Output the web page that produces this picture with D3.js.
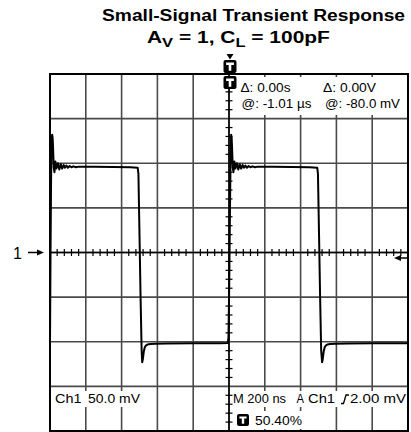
<!DOCTYPE html>
<html>
<head>
<meta charset="utf-8">
<script src="https://cdn.jsdelivr.net/npm/d3@7"></script>
<style>
  html, body { margin: 0; padding: 0; background: #fff; }
  svg { display: block; font-family: "Liberation Sans", Arial, Helvetica, sans-serif; }
</style>
</head>
<body>
<svg id="chart" width="411" height="432"></svg>
<script>
// Scope capture: time in ns from the left graticule edge, voltage in mV (50 mV/div, 200 ns/div)
const timeTicks = [0, 200, 400, 600, 800, 1000, 1200, 1400, 1600, 1800, 2000];
const voltTicks = [-200, -150, -100, -50, 0, 50, 100, 150, 200];

const traceTime = [
  0, 3, 6, 9, 12, 15, 18, 21, 25, 30, 36, 44, 52, 60, 68, 76, 84, 92, 100, 110, 120, 132, 145, 160, 180,
  250, 350, 450, 490, 494, 500, 506, 512, 515, 519, 524, 530, 537, 546, 560, 590, 650, 800, 950, 993,
  997, 1001, 1005, 1009, 1012, 1015, 1018, 1021, 1025, 1030, 1036, 1044, 1052, 1060, 1068, 1076, 1084,
  1092, 1100, 1110, 1120, 1132, 1145, 1160, 1180, 1250, 1350, 1450, 1493, 1497, 1503, 1509, 1515, 1520,
  1524, 1529, 1535, 1542, 1551, 1565, 1595, 1660, 1800, 2000
];
const traceMv = [
  -102, 0, 80, 125, 132, 128, 112, 95, 90, 102, 94, 100, 93, 99, 94, 98, 95, 97.5, 95, 97, 95.5, 96.5, 95.5, 96.2, 96,
  96, 95.8, 95.4, 95, 88, 20, -50, -110, -123, -119, -111, -106, -104, -103, -102.5, -102.2, -102, -101.8, -101.6, -101.5,
  -95, -40, 40, 110, 132, 128, 112, 95, 90, 102, 94, 100, 93, 99, 94, 98, 95,
  97.5, 95, 97, 95.5, 96.5, 95.5, 96.2, 96, 96, 95.8, 95.4, 95, 88, 20, -50, -110, -123,
  -119, -111, -106, -104, -103, -102.5, -102.2, -102, -101.8, -101.6
];

const svg = d3.select("#chart");
const plotL = 50, plotR = 408, plotT = 74, plotB = 431;

const x = d3.scaleLinear().domain([0, 2000]).range([plotL, plotR]);
const y = d3.scaleLinear().domain([-200, 200]).range([plotB, plotT]);

// Title, set in a wide bold face
svg.append("text")
  .attr("x", 102).attr("y", 21)
  .attr("font-size", 16).attr("font-weight", "bold")
  .attr("textLength", 303).attr("lengthAdjust", "spacingAndGlyphs")
  .text("Small-Signal Transient Response");

const sub = svg.append("g");
const t2 = sub.append("text")
  .attr("x", 0).attr("y", 0)
  .attr("font-size", 16.5).attr("font-weight", "bold");
t2.append("tspan").text("A");
t2.append("tspan").attr("font-size", 13).attr("dy", 4).text("V");
t2.append("tspan").attr("dy", -4).text(" = 1, C");
t2.append("tspan").attr("font-size", 13).attr("dy", 4).text("L");
t2.append("tspan").attr("dy", -4).text(" = 100pF");
const w2 = t2.node().getComputedTextLength();
sub.attr("transform", `translate(147,43) scale(${183 / w2},1)`);

// Graticule
const grid = svg.append("g");
grid.selectAll("line.v").data(timeTicks.slice(1, -1)).join("line")
  .attr("x1", d => x(d)).attr("x2", d => x(d))
  .attr("y1", plotT).attr("y2", plotB)
  .attr("stroke", "#4a4a4a").attr("stroke-width", 1.6);
grid.selectAll("line.h").data(voltTicks.slice(1, -1)).join("line")
  .attr("y1", d => y(d)).attr("y2", d => y(d))
  .attr("x1", plotL).attr("x2", plotR)
  .attr("stroke", "#4a4a4a").attr("stroke-width", 1.6);

// Readout backgrounds
const bg = svg.append("g").attr("fill", "#fff");
bg.append("rect").attr("x", 237).attr("y", 77).attr("width", 169).attr("height", 38);
bg.append("rect").attr("x", 53).attr("y", 391).attr("width", 89).attr("height", 16);
bg.append("rect").attr("x", 232).attr("y", 391).attr("width", 175).attr("height", 16);
bg.append("rect").attr("x", 236).attr("y", 411).attr("width", 68).attr("height", 18);

// Centre cross with minor divisions
const cx = x(1000), cy = y(0);
svg.append("line").attr("x1", cx).attr("x2", cx).attr("y1", plotT).attr("y2", plotB)
  .attr("stroke", "#000").attr("stroke-width", 1.5);
svg.append("line").attr("x1", plotL).attr("x2", plotR).attr("y1", cy).attr("y2", cy)
  .attr("stroke", "#000").attr("stroke-width", 1.5);

const minorT = d3.range(0, 2001, 40).filter(d => d % 200 !== 0);
const minorV = d3.range(-200, 201, 10).filter(d => d % 50 !== 0);
svg.append("g").selectAll("line").data(minorT).join("line")
  .attr("x1", d => x(d)).attr("x2", d => x(d))
  .attr("y1", cy - 3.5).attr("y2", cy + 3.5)
  .attr("stroke", "#000").attr("stroke-width", 1.2);
svg.append("g").selectAll("line").data(minorV).join("line")
  .attr("y1", d => y(d)).attr("y2", d => y(d))
  .attr("x1", cx - 3.5).attr("x2", cx + 3.5)
  .attr("stroke", "#000").attr("stroke-width", 1.2);

// Border
svg.append("rect").attr("x", plotL).attr("y", plotT)
  .attr("width", plotR - plotL).attr("height", plotB - plotT)
  .attr("fill", "none").attr("stroke", "#000").attr("stroke-width", 2);

// Trace
const trace = traceTime.map((t, i) => [t, traceMv[i]]);
svg.append("path")
  .datum(trace)
  .attr("d", d3.line().x(d => x(d[0])).y(d => y(d[1])))
  .attr("fill", "none").attr("stroke", "#000")
  .attr("stroke-width", 2).attr("stroke-linejoin", "round");

// Trigger marker symbol: black rounded box with a white T
function tMark(px, py, s) {
  const g = svg.append("g").attr("transform", `translate(${px},${py})`);
  g.append("rect").attr("x", 0).attr("y", 0).attr("width", s).attr("height", s)
    .attr("rx", 2).attr("fill", "#000");
  g.append("path")
    .attr("d", `M${s*0.2},${s*0.2}H${s*0.8}V${s*0.38}H${s*0.6}V${s*0.82}H${s*0.4}V${s*0.38}H${s*0.2}Z`)
    .attr("fill", "#fff");
}
svg.append("path").attr("d", "M226.5,54L233.5,54L230,59.5Z").attr("fill", "#000");
tMark(223.5, 60, 13);
tMark(223.5, 76, 13);
tMark(237, 414, 12);

// Channel ground marker
svg.append("text").attr("x", 13).attr("y", 259).attr("font-size", 16).text("1");
svg.append("line").attr("x1", 28).attr("x2", 39).attr("y1", cy).attr("y2", cy)
  .attr("stroke", "#000").attr("stroke-width", 1.5);
svg.append("path").attr("d", `M37,${cy - 3}L44,${cy}L37,${cy + 3}Z`).attr("fill", "#000");

// Trigger level marker
svg.append("line").attr("x1", 398).attr("x2", 408).attr("y1", 258).attr("y2", 258)
  .attr("stroke", "#000").attr("stroke-width", 1.5);
svg.append("path").attr("d", "M394,258L401,255L401,261Z").attr("fill", "#000");

// Readouts (scope font runs wide, so each string is fitted to its field)
const txt = (tx, ty, w, s) => svg.append("text").attr("x", tx).attr("y", ty)
  .attr("font-size", 12).attr("textLength", w).attr("lengthAdjust", "spacingAndGlyphs").text(s);
txt(240.5, 92, 50, "Δ: 0.00s");
txt(323, 92, 53, "Δ: 0.00V");
txt(241.5, 108, 70, "@: -1.01 µs");
txt(325, 108, 75, "@: -80.0 mV");
txt(55, 403, 26.5, "Ch1");
txt(88, 403, 52, "50.0 mV");
txt(233, 403, 53, "M 200 ns");
txt(296.5, 403, 7.5, "A");
txt(308, 403, 27, "Ch1");
txt(350, 403, 56, "2.00 mV");
txt(255, 425, 47, "50.40%");
// rising-edge trigger slope glyph
svg.append("path").attr("d", "M341,403.5H343.5L346,395H349")
  .attr("fill", "none").attr("stroke", "#000").attr("stroke-width", 1.3);
</script>
</body>
</html>
